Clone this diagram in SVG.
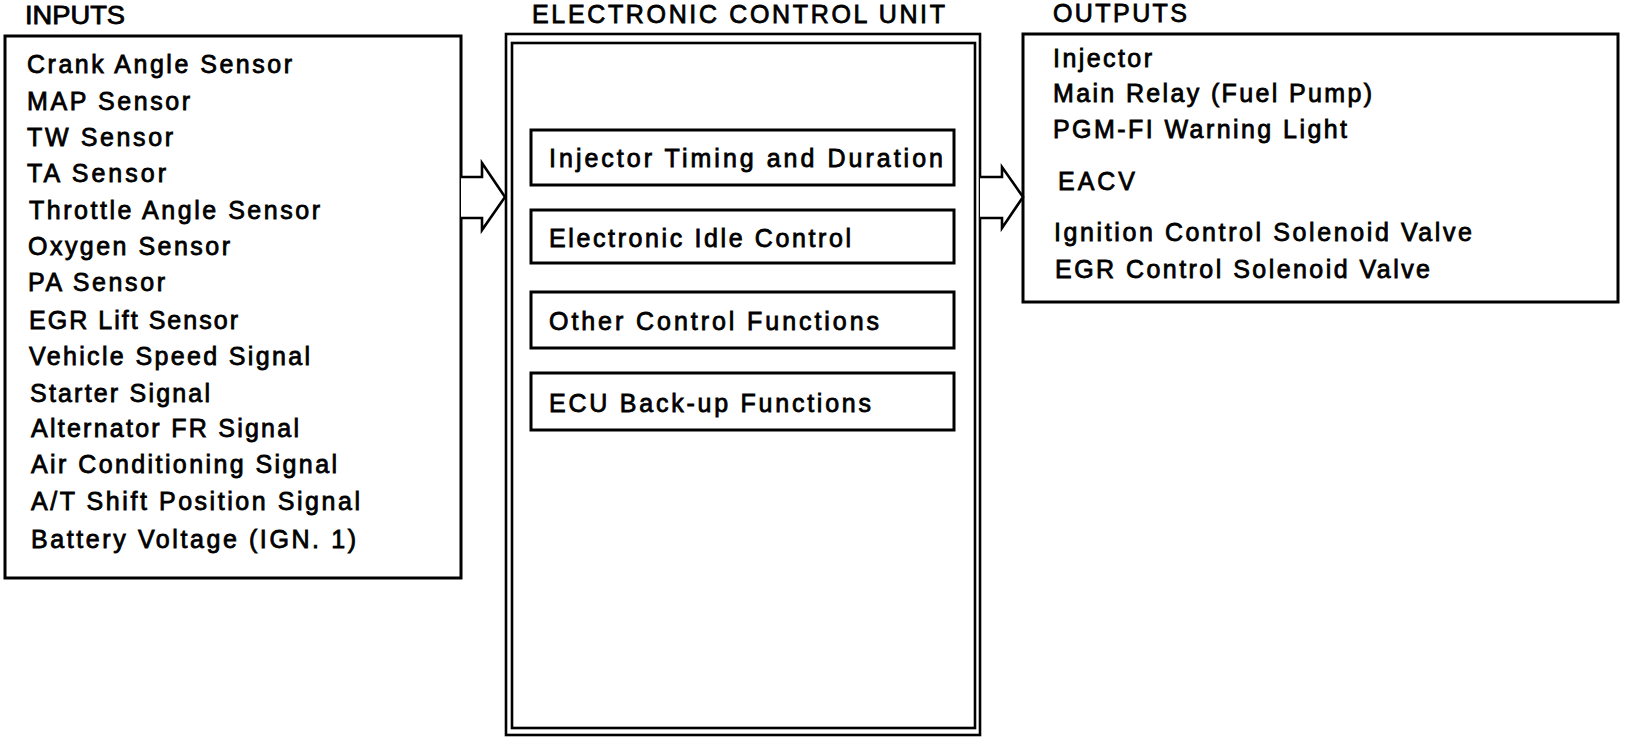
<svg xmlns="http://www.w3.org/2000/svg" width="1648" height="738" viewBox="0 0 1648 738">
<style>
text{font-family:"Liberation Sans",Arial,sans-serif;font-size:25px;fill:#000;stroke:#000;stroke-width:0.8;}
.box{fill:#fff;stroke:#000;stroke-width:3;}
.ecu{fill:none;stroke:#000;stroke-width:2.6;}
.arrow{fill:#fff;stroke:#000;stroke-width:2.6;stroke-linejoin:miter;}
</style>
<rect width="1648" height="738" fill="#fff"/>
<g id="inputs">
<text x="25" y="24" textLength="100" lengthAdjust="spacingAndGlyphs">INPUTS</text>
<rect class="box" x="5" y="36" width="456" height="542"/>
<text x="27" y="73" textLength="265" lengthAdjust="spacing">Crank Angle Sensor</text>
<text x="27" y="110" textLength="163" lengthAdjust="spacing">MAP Sensor</text>
<text x="27" y="146" textLength="146" lengthAdjust="spacing">TW Sensor</text>
<text x="27" y="182" textLength="139" lengthAdjust="spacing">TA Sensor</text>
<text x="29" y="219" textLength="291" lengthAdjust="spacing">Throttle Angle Sensor</text>
<text x="28" y="255" textLength="202" lengthAdjust="spacing">Oxygen Sensor</text>
<text x="28" y="291" textLength="137" lengthAdjust="spacing">PA Sensor</text>
<text x="29" y="329" textLength="209" lengthAdjust="spacing">EGR Lift Sensor</text>
<text x="29" y="365" textLength="281" lengthAdjust="spacing">Vehicle Speed Signal</text>
<text x="30" y="402" textLength="180" lengthAdjust="spacing">Starter Signal</text>
<text x="31" y="437" textLength="268" lengthAdjust="spacing">Alternator FR Signal</text>
<text x="31" y="473" textLength="306" lengthAdjust="spacing">Air Conditioning Signal</text>
<text x="31" y="510" textLength="329" lengthAdjust="spacing">A/T Shift Position Signal</text>
<text x="31" y="548" textLength="325" lengthAdjust="spacing">Battery Voltage (IGN. 1)</text>
</g>
<g id="ecu">
<text x="532" y="23" textLength="413" lengthAdjust="spacing">ELECTRONIC CONTROL UNIT</text>
<rect class="ecu" x="506" y="34" width="474" height="701"/>
<rect class="ecu" x="512" y="43" width="463" height="685"/>
</g>
<g id="f1">
<rect class="box" x="531" y="130" width="423" height="55"/>
<text x="549" y="167" textLength="394" lengthAdjust="spacing">Injector Timing and Duration</text>
</g>
<g id="f2">
<rect class="box" x="531" y="210" width="423" height="53"/>
<text x="549" y="247" textLength="302" lengthAdjust="spacing">Electronic Idle Control</text>
</g>
<g id="f3">
<rect class="box" x="531" y="292" width="423" height="56"/>
<text x="549" y="330" textLength="330" lengthAdjust="spacing">Other Control Functions</text>
</g>
<g id="f4">
<rect class="box" x="531" y="373" width="423" height="57"/>
<text x="549" y="412" textLength="322" lengthAdjust="spacing">ECU Back-up Functions</text>
</g>
<g id="outputs">
<text x="1053" y="22" textLength="134" lengthAdjust="spacing">OUTPUTS</text>
<rect class="box" x="1023" y="34" width="595" height="268"/>
<text x="1053" y="67" textLength="99" lengthAdjust="spacing">Injector</text>
<text x="1053" y="102" textLength="319" lengthAdjust="spacing">Main Relay (Fuel Pump)</text>
<text x="1053" y="138" textLength="294" lengthAdjust="spacing">PGM-FI Warning Light</text>
<text x="1058" y="190" textLength="77" lengthAdjust="spacing">EACV</text>
<text x="1054" y="241" textLength="418" lengthAdjust="spacing">Ignition Control Solenoid Valve</text>
<text x="1055" y="278" textLength="375" lengthAdjust="spacing">EGR Control Solenoid Valve</text>
</g>
<g id="connectors">
<polyline class="arrow" points="461,177 482,177 482,163 505,197 482,230 482,218 461,218"/>
<polyline class="arrow" points="980,177 1002,177 1002,167 1023,197 1002,228 1002,218 980,218"/>
</g>
</svg>
